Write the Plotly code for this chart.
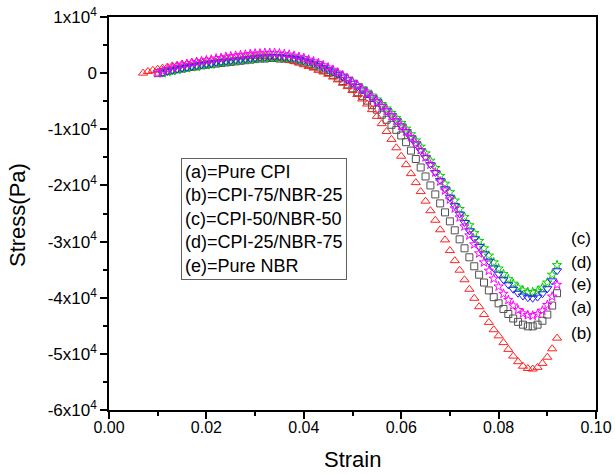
import plotly.graph_objects as go

# strain grids (start of each series differs)
strain_a = [round(0.010 + 0.001 * i, 3) for i in range(83)]   # 0.010 .. 0.092
strain_b = [round(0.007 + 0.001 * i, 3) for i in range(86)]   # 0.007 .. 0.092
strain_c = [round(0.011 + 0.001 * i, 3) for i in range(82)]   # 0.011 .. 0.092
strain_d = [round(0.011 + 0.001 * i, 3) for i in range(82)]
strain_e = [round(0.010 + 0.001 * i, 3) for i in range(83)]

# stress values in units of 1e4 Pa
stress_a = [0.00, 0.02, 0.04, 0.05, 0.07, 0.08, 0.10, 0.11, 0.12, 0.14,
            0.15, 0.16, 0.17, 0.18, 0.19, 0.20, 0.21, 0.22, 0.23, 0.24,
            0.25, 0.26, 0.26, 0.27, 0.27, 0.26, 0.26, 0.25, 0.23, 0.21,
            0.19, 0.16, 0.13, 0.10, 0.06, 0.02, -0.03, -0.08, -0.14, -0.20,
            -0.27, -0.34, -0.41, -0.49, -0.57, -0.65, -0.74, -0.83, -0.92, -1.01,
            -1.11, -1.23, -1.38, -1.53, -1.68, -1.84, -2.00, -2.16, -2.32, -2.48,
            -2.64, -2.80, -2.96, -3.12, -3.28, -3.44, -3.59, -3.73, -3.87, -3.99,
            -4.10, -4.20, -4.29, -4.37, -4.43, -4.48, -4.51, -4.51, -4.48, -4.41,
            -4.30, -4.14, -3.92]

stress_b = [0.00, 0.03, 0.05, 0.07, 0.09, 0.11, 0.13, 0.14, 0.16, 0.17,
            0.19, 0.20, 0.21, 0.22, 0.23, 0.24, 0.25, 0.26, 0.27, 0.28,
            0.29, 0.29, 0.30, 0.30, 0.30, 0.30, 0.29, 0.28, 0.27, 0.25,
            0.23, 0.21, 0.18, 0.15, 0.12, 0.09, 0.05, 0.02, -0.02, -0.07,
            -0.12, -0.18, -0.24, -0.31, -0.38, -0.46, -0.55, -0.65, -0.77, -0.90,
            -1.04, -1.18, -1.33, -1.48, -1.63, -1.79, -1.95, -2.11, -2.28, -2.45,
            -2.62, -2.79, -2.97, -3.16, -3.34, -3.51, -3.68, -3.85, -4.01, -4.16,
            -4.30, -4.44, -4.57, -4.68, -4.80, -4.92, -5.04, -5.14, -5.22, -5.26,
            -5.27, -5.24, -5.17, -5.06, -4.91, -4.72]

stress_c = [0.00, 0.02, 0.04, 0.06, 0.08, 0.09, 0.11, 0.12, 0.14, 0.15,
            0.16, 0.18, 0.19, 0.20, 0.21, 0.22, 0.23, 0.24, 0.25, 0.26,
            0.27, 0.27, 0.28, 0.28, 0.28, 0.27, 0.27, 0.26, 0.24, 0.22,
            0.20, 0.17, 0.14, 0.11, 0.07, 0.03, -0.01, -0.05, -0.10, -0.15,
            -0.21, -0.27, -0.33, -0.40, -0.47, -0.55, -0.63, -0.71, -0.80, -0.89,
            -0.99, -1.09, -1.20, -1.31, -1.43, -1.56, -1.69, -1.83, -1.97, -2.12,
            -2.27, -2.42, -2.56, -2.71, -2.85, -2.99, -3.12, -3.25, -3.37, -3.48,
            -3.58, -3.67, -3.75, -3.82, -3.87, -3.90, -3.90, -3.88, -3.82, -3.73,
            -3.59, -3.42]

stress_d = [0.00, 0.03, 0.05, 0.07, 0.09, 0.10, 0.12, 0.13, 0.15, 0.16,
            0.17, 0.19, 0.20, 0.21, 0.22, 0.23, 0.24, 0.25, 0.26, 0.27,
            0.28, 0.28, 0.29, 0.29, 0.29, 0.28, 0.27, 0.26, 0.24, 0.22,
            0.20, 0.17, 0.14, 0.10, 0.06, 0.02, -0.02, -0.07, -0.12, -0.18,
            -0.24, -0.30, -0.37, -0.44, -0.51, -0.59, -0.67, -0.76, -0.85, -0.94,
            -1.04, -1.15, -1.26, -1.38, -1.50, -1.63, -1.77, -1.91, -2.06, -2.21,
            -2.36, -2.51, -2.66, -2.81, -2.95, -3.09, -3.22, -3.35, -3.47, -3.58,
            -3.68, -3.77, -3.85, -3.92, -3.97, -4.00, -4.01, -3.99, -3.93, -3.84,
            -3.70, -3.52]

stress_e = [0.00, 0.04, 0.07, 0.10, 0.12, 0.14, 0.16, 0.18, 0.20, 0.21,
            0.23, 0.24, 0.26, 0.27, 0.29, 0.30, 0.31, 0.32, 0.33, 0.34,
            0.35, 0.35, 0.36, 0.36, 0.36, 0.35, 0.34, 0.33, 0.31, 0.29,
            0.27, 0.24, 0.21, 0.18, 0.14, 0.10, 0.06, 0.01, -0.04, -0.10,
            -0.16, -0.22, -0.29, -0.36, -0.43, -0.51, -0.59, -0.67, -0.76, -0.85,
            -0.94, -1.04, -1.14, -1.25, -1.37, -1.50, -1.63, -1.77, -1.93, -2.09,
            -2.25, -2.41, -2.57, -2.73, -2.89, -3.05, -3.21, -3.37, -3.52, -3.66,
            -3.80, -3.93, -4.04, -4.14, -4.22, -4.28, -4.31, -4.32, -4.29, -4.23,
            -4.13, -3.98, -3.77]

legend_lines = ["(a)=Pure CPI", "(b)=CPI-75/NBR-25", "(c)=CPI-50/NBR-50",
                "(d)=CPI-25/NBR-75", "(e)=Pure NBR"]
end_labels = ["(c)", "(d)", "(e)", "(a)", "(b)"]
end_label_y = [-2.94e4, -3.37e4, -3.76e4, -4.17e4, -4.63e4]

y_tickvals = [1e4, 0, -1e4, -2e4, -3e4, -4e4, -5e4, -6e4]
y_ticktext = ["1x10<sup>4</sup>", "0", "-1x10<sup>4</sup>", "-2x10<sup>4</sup>",
              "-3x10<sup>4</sup>", "-4x10<sup>4</sup>", "-5x10<sup>4</sup>",
              "-6x10<sup>4</sup>"]
x_tickvals = [0.00, 0.02, 0.04, 0.06, 0.08, 0.10]
x_ticktext = ["0.00", "0.02", "0.04", "0.06", "0.08", "0.10"]

FONT = "Liberation Sans, Arial"

series = [
    (strain_a, stress_a, "#505050", "square-open", 7),
    (strain_b, stress_b, "#FF2020", "triangle-up-open", 8),
    (strain_c, stress_c, "#00CC00", "star-open", 7),
    (strain_d, stress_d, "#2020FF", "triangle-down-open", 8),
    (strain_e, stress_e, "#FF00FF", "star-open", 7),
]

fig = go.Figure()
for xs, ys, col, sym, sz in series:
    fig.add_trace(go.Scatter(
        x=xs, y=[v * 1e4 for v in ys], mode="markers",
        marker=dict(symbol=sym, size=sz, color=col, line=dict(width=1, color=col)),
        showlegend=False))

fig.add_annotation(
    xref="paper", yref="paper", x=0.147, y=0.640, xanchor="left", yanchor="top",
    text="<br>".join(legend_lines), align="left", showarrow=False,
    font=dict(family=FONT, size=18, color="black"),
    bordercolor="#606060", borderwidth=1, borderpad=3, bgcolor="white")

for lab, yv in zip(end_labels, end_label_y):
    fig.add_annotation(x=0.0945, y=yv, xref="x", yref="y", text=lab,
                       xanchor="left", yanchor="middle", showarrow=False,
                       font=dict(family=FONT, size=17, color="black"))

# axis titles placed as annotations for exact positioning
fig.add_annotation(xref="paper", yref="paper", x=0.499, y=-0.127,
                   xanchor="center", yanchor="middle", text="Strain", showarrow=False,
                   font=dict(family=FONT, size=22, color="black"))
fig.add_annotation(xref="paper", yref="paper", x=-0.189, y=0.496, textangle=-90,
                   xanchor="center", yanchor="middle", text="Stress(Pa)", showarrow=False,
                   font=dict(family=FONT, size=22, color="black"))

axis_common = dict(showline=True, linecolor="black", linewidth=1.5, mirror=True,
                   ticks="outside", ticklen=7, tickwidth=1.5, tickcolor="black",
                   showgrid=False, zeroline=False, automargin=False)

fig.update_xaxes(range=[0, 0.10], tickvals=x_tickvals, ticktext=x_ticktext,
                 ticklabelstandoff=-5,
                 tickfont=dict(family=FONT, size=16, color="black"),
                 minor=dict(ticks="outside", ticklen=4, tickwidth=1.5, tickcolor="black",
                            tickvals=[0.01, 0.03, 0.05, 0.07, 0.09]),
                 **axis_common)
fig.update_yaxes(range=[-6e4, 1e4], tickvals=y_tickvals, ticktext=y_ticktext,
                 tickfont=dict(family=FONT, size=17, color="black"),
                 minor=dict(ticks="outside", ticklen=4, tickwidth=1.5, tickcolor="black",
                            tickvals=[5e3, -5e3, -15e3, -25e3, -35e3, -45e3, -55e3]),
                 **axis_common)

fig.update_layout(width=615, height=474, margin=dict(l=109, r=19, t=17, b=64),
                  paper_bgcolor="white", plot_bgcolor="white")

fig.write_html("out.html")
